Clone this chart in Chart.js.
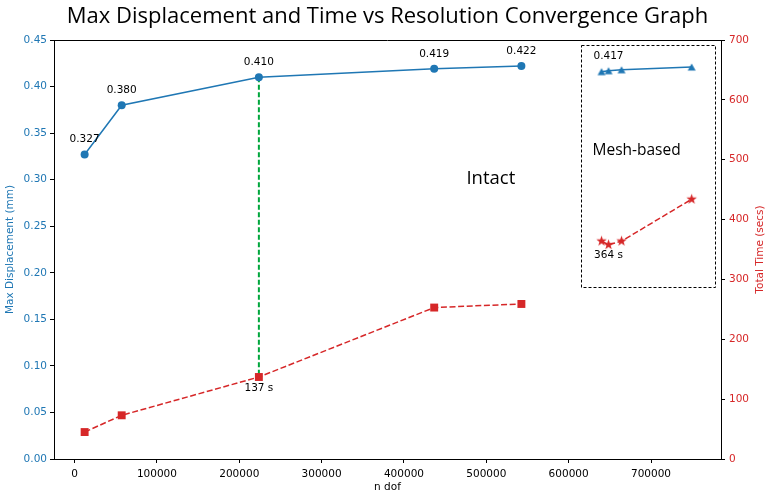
<!DOCTYPE html>
<html>
<head>
<meta charset="utf-8">
<script src="https://cdn.jsdelivr.net/npm/chart.js@4.4.1/dist/chart.umd.min.js"></script>
<style>
  html, body { margin: 0; padding: 0; background: #fff; }
  #wrap { width: 766px; height: 492px; }
</style>
</head>
<body>
<div id="wrap"><canvas id="c" width="766" height="492"></canvas></div>
<script>
// ---- data ----
const intactDof  = [12200, 57200, 223800, 436700, 542600];
const intactDisp = [0.327, 0.380, 0.410, 0.419, 0.422];
const intactTime = [45, 73, 137, 253, 259];

const meshDof  = [639900, 648400, 664200, 749400];
const meshDisp = [0.416, 0.417, 0.418, 0.421];
const meshTime = [364, 358, 364, 434];

const xTicks  = [0, 100000, 200000, 300000, 400000, 500000, 600000, 700000];
const yTicks  = [0, 0.05, 0.10, 0.15, 0.20, 0.25, 0.30, 0.35, 0.40, 0.45];
const y1Ticks = [0, 100, 200, 300, 400, 500, 600, 700];

const boxDof  = [615000, 778000];
const boxTime = [288, 692];

const titleText = 'Max Displacement and Time vs Resolution Convergence Graph';
const xTitle = 'n dof';
const yTitle = 'Max Displacement (mm)';
const y1Title = 'Total Time (secs)';

// ---- styles ----
const BLUE = '#1f77b4', RED = '#d62728', GREEN = '#00a63c';
const TICKFONT = { family: 'DejaVu Sans', size: 10.5 };

function makeStar(color, r) {
  const s = Math.ceil(r * 2 + 2);
  const c = document.createElement('canvas');
  c.width = s; c.height = s;
  const g = c.getContext('2d');
  g.beginPath();
  for (let i = 0; i < 10; i++) {
    const rr = i % 2 ? r * 0.4 : r;
    const a = -Math.PI / 2 + i * Math.PI / 5;
    g.lineTo(s / 2 + rr * Math.cos(a), s / 2 + rr * Math.sin(a));
  }
  g.closePath();
  g.fillStyle = color;
  g.fill();
  return c;
}
function makeTriangle(color, w, h) {
  const s = Math.ceil(Math.max(w, h) + 2);
  const c = document.createElement('canvas');
  c.width = s; c.height = s;
  const g = c.getContext('2d');
  g.beginPath();
  g.moveTo(s / 2, s / 2 - h / 2);
  g.lineTo(s / 2 + w / 2, s / 2 + h / 2);
  g.lineTo(s / 2 - w / 2, s / 2 + h / 2);
  g.closePath();
  g.fillStyle = color;
  g.fill();
  return c;
}
const star = makeStar(RED, 5.5);
const tri = makeTriangle(BLUE, 8, 7);

const pts = (xs, ys) => xs.map((x, i) => ({ x, y: ys[i] }));

const annot = {
  id: 'annot',
  beforeDatasetsDraw(chart) {
    const { ctx, scales: { x, y, y1 } } = chart;
    ctx.save();
    ctx.strokeStyle = GREEN;
    ctx.lineWidth = 2;
    ctx.setLineDash([5, 2.5]);
    ctx.beginPath();
    const gx = x.getPixelForValue(intactDof[2]);
    ctx.moveTo(gx, y.getPixelForValue(intactDisp[2]));
    ctx.lineTo(gx, y1.getPixelForValue(intactTime[2]));
    ctx.stroke();
    ctx.restore();
  },
  afterDatasetsDraw(chart) {
    const { ctx, chartArea: ca, scales: { x, y, y1 } } = chart;
    ctx.save();
    // top spine
    ctx.strokeStyle = '#000';
    ctx.lineWidth = 1;
    ctx.beginPath();
    ctx.moveTo(ca.left, Math.round(ca.top) + 0.5);
    ctx.lineTo(ca.right, Math.round(ca.top) + 0.5);
    ctx.stroke();

    // dashed box
    ctx.setLineDash([3, 2]);
    const bx0 = x.getPixelForValue(boxDof[0]), bx1 = x.getPixelForValue(boxDof[1]);
    const by0 = y1.getPixelForValue(boxTime[1]), by1 = y1.getPixelForValue(boxTime[0]);
    ctx.strokeRect(Math.round(bx0) + 0.5, Math.round(by0) + 0.5, Math.round(bx1 - bx0), Math.round(by1 - by0));
    ctx.setLineDash([]);

    // value labels
    ctx.fillStyle = '#000';
    ctx.font = '10.5px "DejaVu Sans"';
    ctx.textAlign = 'center';
    ctx.textBaseline = 'middle';
    intactDisp.forEach((v, i) => {
      ctx.fillText(v.toFixed(3), x.getPixelForValue(intactDof[i]), y.getPixelForValue(v) - 15);
    });
    ctx.fillText(meshDisp[1].toFixed(3), x.getPixelForValue(meshDof[1]), y.getPixelForValue(meshDisp[1]) - 14);
    ctx.fillText(intactTime[2] + ' s', x.getPixelForValue(intactDof[2]), y1.getPixelForValue(intactTime[2]) + 11);
    ctx.fillText(meshTime[0] + ' s', x.getPixelForValue(meshDof[1]), y1.getPixelForValue(meshTime[0]) + 14);

    // axis titles
    ctx.fillText(xTitle, (ca.left + ca.right) / 2, 487);
    ctx.save();
    ctx.fillStyle = BLUE;
    ctx.translate(10.5, (ca.top + ca.bottom) / 2);
    ctx.rotate(-Math.PI / 2);
    ctx.fillText(yTitle, 0, 0);
    ctx.restore();
    ctx.save();
    ctx.fillStyle = RED;
    ctx.translate(760, (ca.top + ca.bottom) / 2);
    ctx.rotate(-Math.PI / 2);
    ctx.fillText(y1Title, 0, 0);
    ctx.restore();

    // group labels
    ctx.font = '18.5px "Open Sans"';
    ctx.fillText('Intact', x.getPixelForValue(505500), y.getPixelForValue(0.301));
    ctx.font = '15.5px "Open Sans"';
    ctx.fillText('Mesh-based', x.getPixelForValue(682500), y.getPixelForValue(0.331));

    // title
    ctx.font = '22px "Open Sans"';
    ctx.textBaseline = 'alphabetic';
    ctx.fillText(titleText, (ca.left + ca.right) / 2, 23);
    ctx.restore();
  }
};

new Chart(document.getElementById('c'), {
  type: 'line',
  data: {
    datasets: [
      {
        data: pts(intactDof, intactDisp), yAxisID: 'y',
        borderColor: BLUE, backgroundColor: BLUE, borderWidth: 1.5,
        pointStyle: 'circle', pointRadius: 4, pointBorderWidth: 0, tension: 0
      },
      {
        data: pts(intactDof, intactTime), yAxisID: 'y1',
        borderColor: RED, backgroundColor: RED, borderWidth: 1.5, borderDash: [6, 2.6],
        pointStyle: 'rect', pointRadius: 5.6, pointBorderWidth: 0, tension: 0
      },
      {
        data: pts(meshDof, meshDisp), yAxisID: 'y',
        borderColor: BLUE, backgroundColor: BLUE, borderWidth: 1.5,
        pointStyle: tri, pointRadius: 4.5, pointBorderWidth: 0, tension: 0
      },
      {
        data: pts(meshDof, meshTime), yAxisID: 'y1',
        borderColor: RED, backgroundColor: RED, borderWidth: 1.5, borderDash: [6, 2.6],
        pointStyle: star, pointRadius: 5.5, pointBorderWidth: 0, tension: 0
      }
    ]
  },
  options: {
    responsive: false,
    animation: false,
    events: [],
    layout: { padding: { top: 40, left: 0, right: 0, bottom: 0 } },
    plugins: { legend: { display: false }, tooltip: { enabled: false }, title: { display: false } },
    scales: {
      x: {
        type: 'linear', min: -25000, max: 785000,
        afterBuildTicks: s => { s.ticks = xTicks.map(v => ({ value: v })); },
        afterFit: s => { s.height = 33; },
        ticks: { color: '#000', font: TICKFONT, padding: 5, maxRotation: 0, autoSkip: false, callback: v => String(v) },
        grid: { drawOnChartArea: false, drawTicks: true, tickLength: 4, color: '#000' },
        border: { display: true, color: '#000' },
        title: { display: false }
      },
      y: {
        type: 'linear', position: 'left', min: 0, max: 0.45,
        afterBuildTicks: s => { s.ticks = yTicks.map(v => ({ value: v })); },
        afterFit: s => { s.width = 54; },
        ticks: { color: BLUE, font: TICKFONT, padding: 3, callback: v => Number(v).toFixed(2) },
        grid: { drawOnChartArea: false, drawTicks: true, tickLength: 4, color: '#000' },
        border: { display: true, color: '#000' },
        title: { display: false }
      },
      y1: {
        type: 'linear', position: 'right', min: 0, max: 700,
        afterBuildTicks: s => { s.ticks = y1Ticks.map(v => ({ value: v })); },
        afterFit: s => { s.width = 45; },
        ticks: { color: RED, font: TICKFONT, padding: 4, callback: v => String(v) },
        grid: { drawOnChartArea: false, drawTicks: true, tickLength: 4, color: '#000' },
        border: { display: true, color: '#000' },
        title: { display: false }
      }
    }
  },
  plugins: [annot]
});
</script>
</body>
</html>
